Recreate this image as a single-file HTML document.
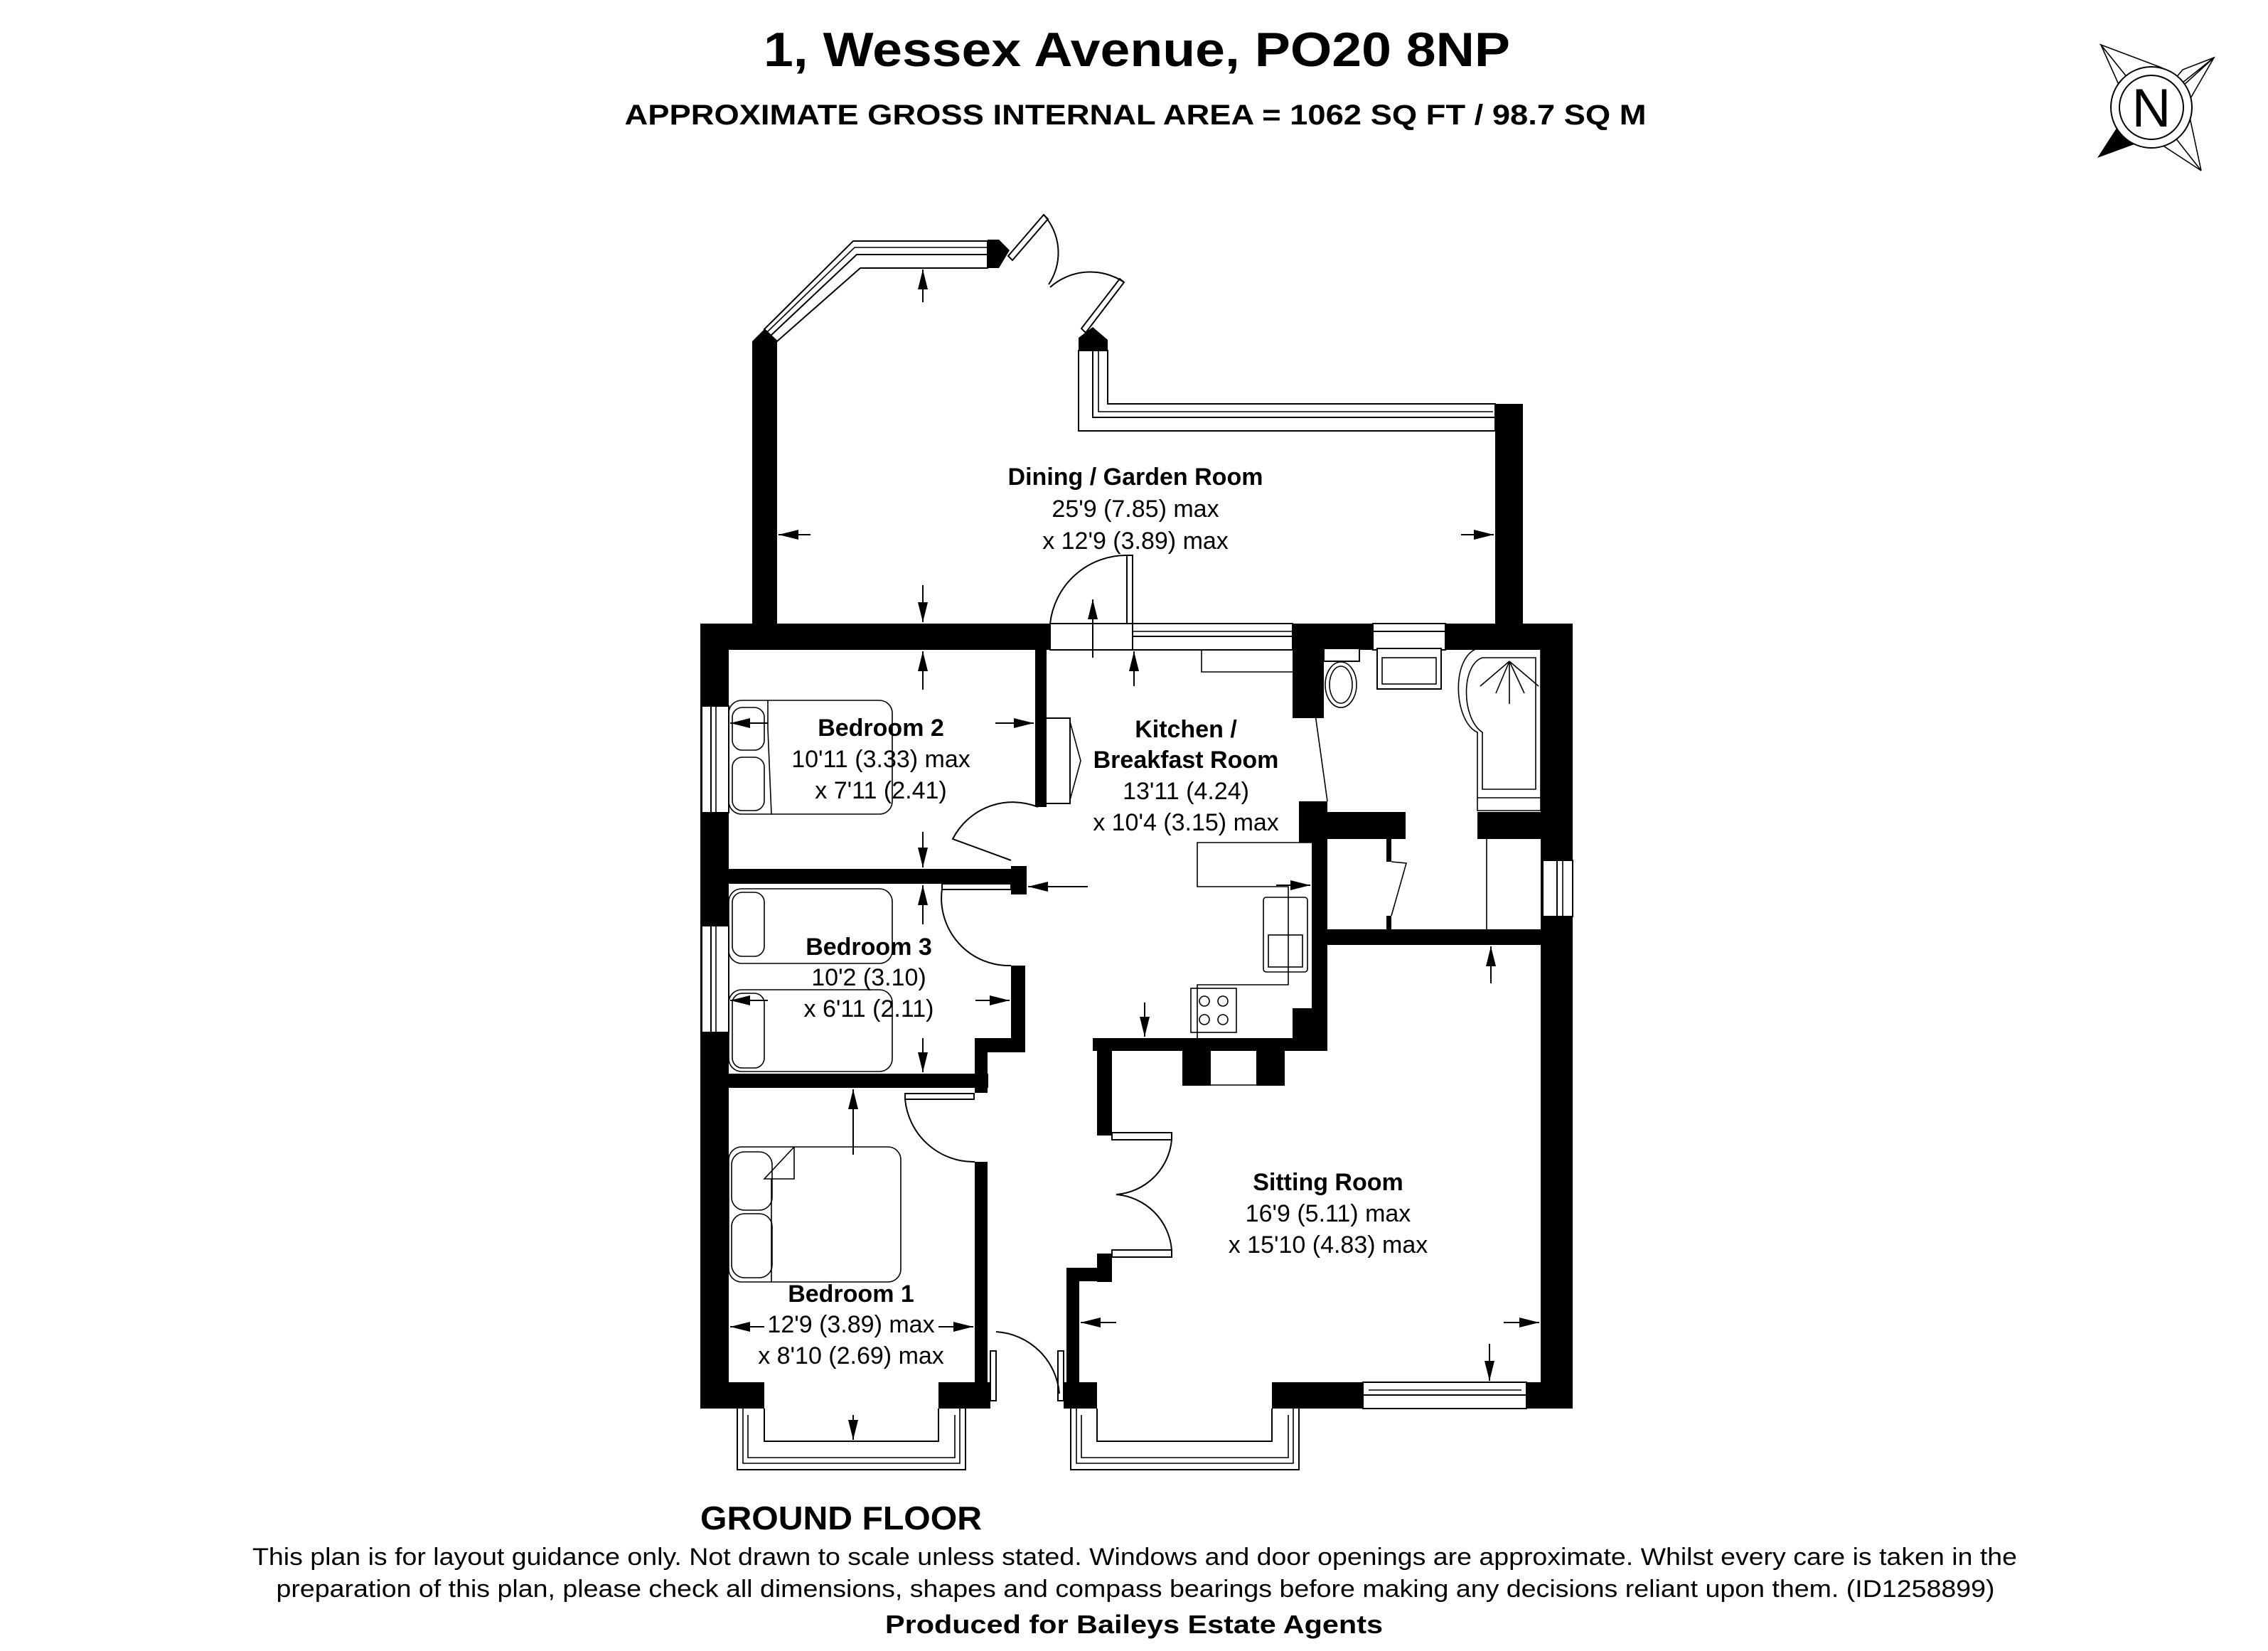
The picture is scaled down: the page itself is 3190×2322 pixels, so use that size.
<!DOCTYPE html>
<html><head><meta charset="utf-8"><style>
html,body{margin:0;padding:0;background:#fff;}
svg{display:block;}
text{font-family:"Liberation Sans",Arial,sans-serif;fill:#000;}
.b{font-weight:bold;}
.w{fill:#000;}
.win{fill:#fff;stroke:#000;stroke-width:2;}
.ln{fill:none;stroke:#000;stroke-width:2;}
.th{fill:none;stroke:#000;stroke-width:1.6;}
</style></head><body>
<svg width="3190" height="2322" viewBox="0 0 3190 2322" xmlns="http://www.w3.org/2000/svg">
<defs>
<marker id="a2" markerWidth="28" markerHeight="14" refX="28" refY="7" orient="auto" markerUnits="userSpaceOnUse"><path d="M0,0 L28,7 L0,14 z" fill="#000"/></marker>
</defs>
<rect width="3190" height="2322" fill="#fff"/>

<!-- Titles -->
<text x="1599" y="93" font-size="68" class="b" text-anchor="middle" textLength="1050" lengthAdjust="spacingAndGlyphs">1, Wessex Avenue, PO20 8NP</text>
<text x="1597" y="175" font-size="40" class="b" text-anchor="middle" textLength="1437" lengthAdjust="spacingAndGlyphs">APPROXIMATE GROSS INTERNAL AREA = 1062 SQ FT / 98.7 SQ M</text>

<!-- Compass -->
<g>
<path d="M2955,63 L3040,95 L3026,151 Z M2955,63 L2985,130 L3026,151 Z" class="th" fill="#fff"/>
<path d="M3114,81 L3060,130 L3026,151 Z M3114,81 L3070,98 L3026,151 L3080,140 Z" class="th" fill="#fff"/>
<path d="M3096,240 L3080,165 L3026,151 Z M3096,240 L3035,200 L3026,151 Z" class="th" fill="#fff"/>
<path d="M2950,222 L2990,160 L3026,151 L3010,200 Z" fill="#000"/>
<circle cx="3026" cy="151" r="57" fill="#fff" stroke="#000" stroke-width="2"/>
<circle cx="3026" cy="151" r="45" fill="#fff" stroke="#000" stroke-width="2"/>
<text x="3026" y="178" font-size="76" text-anchor="middle">N</text>
</g>

<!-- ===== Dining / Garden room ===== -->
<polygon class="w" points="1058,480 1075,463 1093,480 1093,877 1058,877"/>
<polygon class="w" points="2103,568 2142,568 2142,877 2103,877"/>
<polygon class="win" points="1093,480 1210,377 1389,377 1389,339 1200,339 1075,463"/>
<polyline class="ln" points="1084,472 1205,358 1389,358"/>
<polyline class="th" points="1079,467 1202,348 1389,348"/>
<polygon class="w" points="1389,337 1405,337 1420,352 1405,377 1389,377"/>
<polygon class="win" points="1418,360 1468,302 1474,308 1424,366"/>
<path class="ln" d="M1468,302 A80,80 0 0 1 1475,400"/>
<polygon class="win" points="1527,468 1581,397 1575,392 1521,462"/>
<path class="ln" d="M1581,397 A85,85 0 0 0 1477,404"/>
<polygon class="w" points="1517,493 1517,475 1537,460 1558,478 1558,493"/>
<polygon class="win" points="1517,493 1558,493 1558,568 2103,568 2103,606 1517,606"/>
<polyline class="ln" points="1537,493 1537,587 2103,587"/>
<polyline class="th" points="1545,493 1545,579 2100,579"/>

<!-- ===== Main outer walls ===== -->
<rect class="w" x="985" y="877" width="492" height="37"/>
<rect class="win" x="1477" y="877" width="116" height="37"/>
<rect class="win" x="1585" y="781" width="8" height="96"/>
<path class="ln" d="M1477,877 A108,108 0 0 1 1585,781"/>
<rect class="win" x="1593" y="877" width="225" height="37"/>
<line class="ln" x1="1593" y1="895" x2="1818" y2="895"/>
<line class="th" x1="1593" y1="888" x2="1818" y2="888"/>
<rect class="w" x="1818" y="877" width="113" height="37"/>
<rect class="w" x="1818" y="877" width="44" height="133"/>
<rect class="win" x="1931" y="877" width="102" height="37"/>
<line class="ln" x1="1931" y1="888" x2="2033" y2="888"/>
<rect class="w" x="2033" y="877" width="179" height="37"/>
<rect class="w" x="985" y="877" width="40" height="1104"/>
<rect class="win" x="987" y="993" width="38" height="150"/>
<line class="ln" x1="1000" y1="993" x2="1000" y2="1143"/><line class="th" x1="1007" y1="993" x2="1007" y2="1143"/>
<rect class="win" x="987" y="1302" width="38" height="150"/>
<line class="ln" x1="1000" y1="1302" x2="1000" y2="1452"/><line class="th" x1="1007" y1="1302" x2="1007" y2="1452"/>
<rect class="w" x="2167" y="877" width="45" height="1104"/>
<rect class="win" x="2170" y="1210" width="42" height="79"/>
<line class="ln" x1="2190" y1="1210" x2="2190" y2="1289"/><line class="th" x1="2198" y1="1210" x2="2198" y2="1289"/>
<rect class="w" x="985" y="1944" width="90" height="37"/>
<rect class="w" x="1320" y="1944" width="73" height="37"/>
<rect class="win" x="1393" y="1900" width="8" height="70"/>
<rect class="win" x="1488" y="1900" width="8" height="70"/>
<rect class="w" x="1496" y="1944" width="47" height="37"/>
<rect class="w" x="1789" y="1944" width="128" height="37"/>
<rect class="win" x="1917" y="1944" width="230" height="37"/>
<line class="ln" x1="1917" y1="1962" x2="2147" y2="1962"/><line class="th" x1="1925" y1="1955" x2="2140" y2="1955"/>
<rect class="w" x="2147" y="1944" width="65" height="37"/>
<polyline class="ln" points="1037,1981 1037,2067 1358,2067 1358,1981"/>
<polyline class="th" points="1045,1981 1045,2058 1350,2058 1350,1981"/>
<polyline class="th" points="1052,1990 1052,2050 1343,2050 1343,1990"/>
<polyline class="ln" points="1075,1981 1075,2027 1320,2027 1320,1981"/>
<polyline class="ln" points="1506,1981 1506,2067 1827,2067 1827,1981"/>
<polyline class="th" points="1514,1981 1514,2058 1819,2058 1819,1981"/>
<polyline class="th" points="1521,1990 1521,2050 1812,2050 1812,1990"/>
<polyline class="ln" points="1543,1981 1543,2027 1789,2027 1789,1981"/>

<!-- ===== Interior walls ===== -->
<rect class="w" x="1456" y="914" width="16" height="221"/>
<polyline class="ln" points="1472,1010 1505,1010 1505,1130 1472,1130" stroke-width="5"/>
<polyline class="th" points="1505,1015 1520,1070 1505,1125"/>
<path class="ln" d="M1422,1210 L1340,1180 A95,95 0 0 1 1460,1135"/>
<rect class="w" x="1025" y="1222" width="405" height="21"/>
<rect class="w" x="1422" y="1218" width="22" height="40"/>
<rect class="win" x="1325" y="1243" width="97" height="8"/>
<path class="ln" d="M1325,1250 A95,95 0 0 0 1422,1358"/>
<rect class="w" x="1422" y="1358" width="20" height="105"/>
<rect class="w" x="1371" y="1460" width="71" height="20"/>
<rect class="w" x="1371" y="1460" width="18" height="77"/>
<rect class="w" x="1025" y="1510" width="365" height="20"/>
<rect class="win" x="1273" y="1538" width="97" height="8"/>
<path class="ln" d="M1273,1546 A97,97 0 0 0 1371,1634"/>
<rect class="w" x="1371" y="1634" width="18" height="320"/>
<path class="ln" d="M1401,1873 A95,95 0 0 1 1490,1960"/>
<rect class="w" x="1537" y="1460" width="330" height="18"/>
<rect class="w" x="1543" y="1460" width="21" height="137"/>
<rect class="w" x="1663" y="1478" width="40" height="49"/>
<rect class="w" x="1767" y="1478" width="40" height="49"/>
<line class="th" x1="1703" y1="1526" x2="1767" y2="1526"/>
<rect class="win" x="1564" y="1593" width="84" height="10"/>
<rect class="win" x="1564" y="1758" width="84" height="10"/>
<path class="ln" d="M1648,1603 A85,85 0 0 1 1570,1680 A85,85 0 0 1 1648,1758"/>
<rect class="w" x="1543" y="1763" width="21" height="40"/>
<rect class="w" x="1500" y="1783" width="64" height="19"/>
<rect class="w" x="1500" y="1783" width="18" height="165"/>
<rect class="w" x="1845" y="1185" width="22" height="293"/>
<rect class="w" x="1818" y="1418" width="49" height="42"/>
<rect class="w" x="1827" y="1127" width="40" height="58"/>
<rect class="w" x="1850" y="1142" width="127" height="38"/>
<rect class="w" x="2078" y="1142" width="134" height="38"/>
<rect class="w" x="1845" y="1307" width="367" height="22"/>
<line class="th" x1="2091" y1="1180" x2="2091" y2="1307"/>
<rect class="w" x="1950" y="1180" width="7" height="32"/>
<rect class="w" x="1950" y="1288" width="7" height="20"/>
<polyline class="th" points="1957,1212 1978,1214 1957,1288"/>
<polyline class="th" points="1827,1008 1850,1005 1867,1127"/>
<rect class="win" x="1862" y="912" width="50" height="18"/>
<ellipse class="th" cx="1886" cy="963" rx="22" ry="32"/>
<ellipse class="th" cx="1886" cy="963" rx="16" ry="26"/>
<rect class="win" x="1937" y="912" width="90" height="57"/>
<rect class="th" x="1944" y="925" width="76" height="37"/>
<path class="th" d="M2078,912 C2040,925 2045,1015 2078,1030 L2078,1140 L2167,1140 L2167,912 Z"/>
<path class="th" d="M2085,925 L2160,925 L2160,1110 L2085,1110 L2085,1030 C2055,1010 2055,935 2085,925 Z"/>
<line class="th" x1="2078" y1="1122" x2="2167" y2="1122"/>
<path class="th" d="M2123,930 L2082,965 M2123,930 L2104,975 M2123,930 L2123,990 M2123,930 L2144,975 M2123,930 L2164,965"/>
<polyline class="th" points="1690,914 1690,945 1827,945"/>
<polyline class="th" points="1867,1185 1684,1185 1684,1247 1812,1247 1812,1385 1684,1385 1684,1460"/>
<rect class="th" x="1777" y="1262" width="62" height="105" rx="4"/>
<rect class="th" x="1784" y="1315" width="48" height="45"/>
<rect class="th" x="1675" y="1390" width="64" height="62"/>
<circle class="th" cx="1694" cy="1408" r="7"/><circle class="th" cx="1720" cy="1408" r="7"/>
<circle class="th" cx="1694" cy="1434" r="7"/><circle class="th" cx="1720" cy="1434" r="7"/>

<!-- beds -->
<rect class="th" x="1025" y="985" width="230" height="160" rx="18"/>
<polyline class="th" points="1080,985 1080,1025 1085,1145"/>
<rect class="th" x="1030" y="995" width="45" height="60" rx="14"/>
<rect class="th" x="1030" y="1065" width="45" height="75" rx="14"/>
<rect class="th" x="1025" y="1250" width="230" height="105" rx="18"/>
<rect class="th" x="1030" y="1255" width="45" height="90" rx="14"/>
<rect class="th" x="1025" y="1392" width="230" height="115" rx="18"/>
<rect class="th" x="1030" y="1397" width="45" height="105" rx="14"/>
<rect class="th" x="1025" y="1613" width="242" height="190" rx="18"/>
<rect class="th" x="1029" y="1620" width="57" height="82" rx="18"/>
<rect class="th" x="1029" y="1707" width="57" height="90" rx="18"/>
<polyline class="th" points="1117,1613 1117,1658 1075,1658 1117,1613"/>
<line class="th" x1="1085" y1="1658" x2="1085" y2="1803"/>

<!-- dimension arrows -->
<g stroke="#000" stroke-width="2" fill="none">
<line x1="1140" y1="752" x2="1095" y2="752" marker-end="url(#a2)"/>
<line x1="2055" y1="752" x2="2101" y2="752" marker-end="url(#a2)"/>
<line x1="1298" y1="823" x2="1298" y2="875" marker-end="url(#a2)"/>
<line x1="1298" y1="425" x2="1298" y2="379" marker-end="url(#a2)"/>
<line x1="1298" y1="970" x2="1298" y2="916" marker-end="url(#a2)"/>
<line x1="1298" y1="1170" x2="1298" y2="1220" marker-end="url(#a2)"/>
<line x1="1298" y1="1300" x2="1298" y2="1245" marker-end="url(#a2)"/>
<line x1="1298" y1="1460" x2="1298" y2="1508" marker-end="url(#a2)"/>
<line x1="1200" y1="1624" x2="1200" y2="1532" marker-end="url(#a2)"/>
<line x1="1200" y1="1990" x2="1200" y2="2025" marker-end="url(#a2)"/>
<line x1="1080" y1="1017" x2="1027" y2="1017" marker-end="url(#a2)"/>
<line x1="1400" y1="1017" x2="1454" y2="1017" marker-end="url(#a2)"/>
<line x1="1080" y1="1407" x2="1027" y2="1407" marker-end="url(#a2)"/>
<line x1="1372" y1="1407" x2="1420" y2="1407" marker-end="url(#a2)"/>
<line x1="1075" y1="1866" x2="1027" y2="1866" marker-end="url(#a2)"/>
<line x1="1320" y1="1866" x2="1369" y2="1866" marker-end="url(#a2)"/>
<line x1="1530" y1="1247" x2="1446" y2="1247" marker-end="url(#a2)"/>
<line x1="1537" y1="925" x2="1537" y2="843" marker-end="url(#a2)"/>
<line x1="1595" y1="965" x2="1595" y2="916" marker-end="url(#a2)"/>
<line x1="1610" y1="1410" x2="1610" y2="1458" marker-end="url(#a2)"/>
<line x1="1795" y1="1245" x2="1843" y2="1245" marker-end="url(#a2)"/>
<line x1="2097" y1="1383" x2="2097" y2="1331" marker-end="url(#a2)"/>
<line x1="1570" y1="1860" x2="1520" y2="1860" marker-end="url(#a2)"/>
<line x1="2115" y1="1860" x2="2165" y2="1860" marker-end="url(#a2)"/>
<line x1="2095" y1="1890" x2="2095" y2="1942" marker-end="url(#a2)"/>
</g>

<!-- Room labels -->
<g font-size="34" text-anchor="middle">
<text x="1597" y="682" class="b">Dining / Garden Room</text>
<text x="1597" y="727">25'9 (7.85) max</text>
<text x="1597" y="772">x 12'9 (3.89) max</text>
<text x="1239" y="1035" class="b">Bedroom 2</text>
<text x="1239" y="1079">10'11 (3.33) max</text>
<text x="1239" y="1123">x 7'11 (2.41)</text>
<text x="1668" y="1037" class="b">Kitchen /</text>
<text x="1668" y="1080" class="b">Breakfast Room</text>
<text x="1668" y="1124">13'11 (4.24)</text>
<text x="1668" y="1168">x 10'4 (3.15) max</text>
<text x="1222" y="1343" class="b">Bedroom 3</text>
<text x="1222" y="1386">10'2 (3.10)</text>
<text x="1222" y="1430">x 6'11 (2.11)</text>
<text x="1868" y="1674" class="b">Sitting Room</text>
<text x="1868" y="1718">16'9 (5.11) max</text>
<text x="1868" y="1762">x 15'10 (4.83) max</text>
<text x="1197" y="1831" class="b">Bedroom 1</text>
<text x="1197" y="1874">12'9 (3.89) max</text>
<text x="1197" y="1918">x 8'10 (2.69) max</text>
</g>

<!-- Footer -->
<text x="985" y="2151" font-size="46" class="b" textLength="396" lengthAdjust="spacingAndGlyphs">GROUND FLOOR</text>
<text x="1596" y="2201" font-size="34" text-anchor="middle" textLength="2482" lengthAdjust="spacingAndGlyphs">This plan is for layout guidance only. Not drawn to scale unless stated. Windows and door openings are approximate. Whilst every care is taken in the</text>
<text x="1597" y="2246" font-size="34" text-anchor="middle" textLength="2417" lengthAdjust="spacingAndGlyphs">preparation of this plan, please check all dimensions, shapes and compass bearings before making any decisions reliant upon them. (ID1258899)</text>
<text x="1595" y="2297" font-size="36" class="b" text-anchor="middle" textLength="700" lengthAdjust="spacingAndGlyphs">Produced for Baileys Estate Agents</text>
</svg>
</body></html>
